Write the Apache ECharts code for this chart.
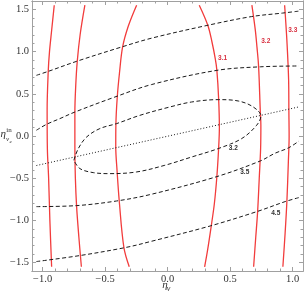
<!DOCTYPE html>
<html>
<head>
<meta charset="utf-8">
<script src="https://cdn.jsdelivr.net/npm/echarts@6/dist/echarts.min.js"></script>
<style>html,body{margin:0;padding:0;background:#fff}#c{width:304px;height:296px}</style>
</head>
<body>
<div id="c"></div>
<script>
// ---- data (x = eta_nu, y = eta^in_nu_e) ----
const redA = [[-0.928,-1.55],[-0.942,-1.0],[-0.952,-0.5],[-0.962,-0.15],[-0.964,0.3],[-0.955,0.77],[-0.945,1.0],[-0.928,1.25],[-0.907,1.55]];
const redB = [[-0.69,-1.55],[-0.71,-1.2],[-0.728,-0.84],[-0.738,-0.5],[-0.742,-0.13],[-0.742,0.28],[-0.735,0.6],[-0.723,0.885],[-0.7,1.2],[-0.662,1.55]];
const redC = [[-0.307,-1.55],[-0.35,-1.32],[-0.387,-0.77],[-0.405,-0.4],[-0.415,-0.13],[-0.414,0.13],[-0.403,0.46],[-0.385,0.75],[-0.36,1.055],[-0.315,1.3],[-0.248,1.55]];
const red31 = [[0.296,-1.55],[0.32,-1.35],[0.349,-1.066],[0.374,-0.8],[0.394,-0.48],[0.408,-0.146],[0.414,0.1],[0.408,0.443],[0.394,0.778],[0.381,0.917],[0.354,1.12],[0.322,1.31],[0.253,1.55]];
const red32 = [[0.688,-1.55],[0.705,-1.2],[0.72,-0.896],[0.733,-0.5],[0.744,-0.146],[0.746,0.13],[0.741,0.304],[0.728,0.818],[0.715,1.05],[0.701,1.26],[0.674,1.55]];
const red33 = [[0.922,-1.55],[0.94,-1.15],[0.954,-0.78],[0.966,-0.3],[0.972,0.0],[0.97,0.3],[0.968,0.66],[0.954,1.134],[0.936,1.55]];

const dashTop = [[-1.05,0.719],[-0.955,0.766],[-0.728,0.885],[-0.368,1.055],[-0.127,1.16],[0.314,1.31],[0.67,1.415],[0.92,1.457],[1.05,1.48]];
const dashUpper = [[-1.05,0.068],[-0.968,0.139],[-0.862,0.206],[-0.742,0.284],[-0.422,0.462],[-0.128,0.61],[0.394,0.778],[0.741,0.82],[1.05,0.83]];
const ellipse32 = [[-0.75,-0.288],[-0.715,-0.15],[-0.648,-0.012],[-0.542,0.088],[-0.408,0.147],[-0.222,0.245],[0.018,0.344],[0.192,0.403],[0.405,0.431],[0.565,0.415],[0.685,0.344],[0.746,0.237],[0.712,0.127],[0.592,-0.031],[0.405,-0.149],[0.192,-0.249],[-0.022,-0.347],[-0.248,-0.426],[-0.462,-0.446],[-0.595,-0.434],[-0.702,-0.386],[-0.75,-0.288]];
const dash35 = [[-1.05,-0.837],[-0.728,-0.825],[-0.408,-0.77],[-0.128,-0.69],[0.394,-0.481],[0.741,-0.296],[0.858,-0.205],[0.968,-0.14],[1.05,-0.06]];
const dash45 = [[-1.05,-1.488],[-0.702,-1.417],[-0.328,-1.319],[-0.127,-1.247],[0.341,-1.066],[0.714,-0.896],[0.941,-0.777],[1.05,-0.73]];
const dottedLine = [[-1.05,-0.35],[1.05,0.345]];

const redLabels = [[0.44,0.917,'3.1'],[0.785,1.128,'3.2'],[1.001,1.258,'3.3']];
const blackLabels = [[0.525,-0.143,'3.2'],[0.617,-0.432,'3.5'],[0.865,-0.91,'4.5']];

const xMajor = [-1.0,-0.5,0.0,0.5,1.0];
const xMinor = [-1.0,-0.9,-0.8,-0.7,-0.6,-0.5,-0.4,-0.3,-0.2,-0.1,0.0,0.1,0.2,0.3,0.4,0.5,0.6,0.7,0.8,0.9,1.0];
const yMajor = [-1.5,-1.0,-0.5,0.0,0.5,1.0,1.5];
const yMinor = [-1.5,-1.4,-1.3,-1.2,-1.1,-1.0,-0.9,-0.8,-0.7,-0.6,-0.5,-0.4,-0.3,-0.2,-0.1,0.0,0.1,0.2,0.3,0.4,0.5,0.6,0.7,0.8,0.9,1.0,1.1,1.2,1.3,1.4,1.5];

const X_MIN = -1.085, X_MAX = 1.083, Y_MIN = -1.6, Y_MAX = 1.6;

// ---- styles ----
const FRAME = '#a0a0a0';
const LABEL_FONT = 'Liberation Serif';
const RED = '#f23c3c';
const fmt = v => (v < 0 ? '\u2212' : '') + Math.abs(v).toFixed(1);

function xAxisDef(pos, ticks, len, labels) {
  return {
    type: 'value', position: pos, min: X_MIN, max: X_MAX,
    axisLine: {show: true, onZero: false, lineStyle: {color: FRAME, width: 1}},
    axisTick: {show: true, inside: true, length: len, customValues: ticks, lineStyle: {color: FRAME, width: 1}},
    axisLabel: labels ? {show: true, customValues: xMajor, formatter: fmt, margin: 3, color: '#333', fontFamily: LABEL_FONT, fontSize: 10.5} : {show: false},
    splitLine: {show: false}
  };
}
function yAxisDef(pos, ticks, len, labels) {
  return {
    type: 'value', position: pos, min: Y_MIN, max: Y_MAX,
    axisLine: {show: true, onZero: false, lineStyle: {color: FRAME, width: 1}},
    axisTick: {show: true, inside: true, length: len, customValues: ticks, lineStyle: {color: FRAME, width: 1}},
    axisLabel: labels ? {show: true, customValues: yMajor, formatter: fmt, margin: 3, color: '#333', fontFamily: LABEL_FONT, fontSize: 10.5} : {show: false},
    splitLine: {show: false}
  };
}

function redSeries(data) {
  return {type: 'line', data: data, smooth: 0.35, symbol: 'none', silent: true, z: 3,
          lineStyle: {color: RED, width: 1.3}};
}
function dashSeries(data, type) {
  return {type: 'line', data: data, smooth: 0.35, symbol: 'none', silent: true, z: 4,
          lineStyle: {color: '#1a1a1a', width: 1, type: type}};
}
function labelSeries(data, color) {
  return {type: 'scatter', data: data, symbol: 'circle', symbolSize: 2, silent: true, z: 6, zlevel: 0,
          itemStyle: {color: 'rgba(255,255,255,0)'},
          labelLayout: {hideOverlap: false},
          label: {show: true, position: 'inside', formatter: p => p.data[2], color: color,
                  fontFamily: 'Liberation Sans', fontWeight: 'bold', fontSize: 6.5,
                  backgroundColor: '#fff', padding: [0, 0.5], opacity: 1}};
}
function txt(x, y, text, size, style) {
  return {type: 'text', x: x, y: y, z: 10,
          style: {text: text, fontFamily: 'Liberation Serif', fontSize: size, fontStyle: style,
                  fill: '#333', verticalAlign: 'bottom', align: 'left'}};
}

const chart = echarts.init(document.getElementById('c'), null, {renderer: 'canvas'});
chart.setOption({
  animation: false,
  backgroundColor: '#fff',
  grid: {left: 32, right: 1, top: 1, bottom: 25, containLabel: false},
  xAxis: [xAxisDef('bottom', xMajor, 4, true), xAxisDef('bottom', xMinor, 2.5, false),
          xAxisDef('top', xMajor, 4, false), xAxisDef('top', xMinor, 2.5, false)],
  yAxis: [yAxisDef('left', yMajor, 4, true), yAxisDef('left', yMinor, 2.5, false),
          yAxisDef('right', yMajor, 4, false), yAxisDef('right', yMinor, 2.5, false)],
  series: [
    redSeries(redA), redSeries(redB), redSeries(redC), redSeries(red31), redSeries(red32), redSeries(red33),
    dashSeries(dashTop, [4, 2.5]), dashSeries(dashUpper, [4, 2.5]), dashSeries(ellipse32, [4, 2.5]),
    dashSeries(dash35, [4, 2.5]), dashSeries(dash45, [4, 2.5]),
    {type: 'line', data: dottedLine, symbol: 'none', silent: true, z: 4, lineStyle: {color: '#1a1a1a', width: 1, type: [1, 2]}},
    labelSeries(redLabels, '#d83040'), labelSeries(blackLabels, '#333')
  ],
  graphic: [
    txt(162.3, 291, 'η', 11, 'italic'),
    txt(166.8, 293, 'ν', 8, 'italic'),
    txt(0.5, 140, 'η', 11, 'italic'),
    txt(6.3, 133.5, 'in', 7, 'normal'),
    txt(6.0, 143, 'ν', 7, 'italic'),
    txt(9.6, 144.5, 'e', 5, 'italic')
  ]
});
</script>
</body>
</html>
